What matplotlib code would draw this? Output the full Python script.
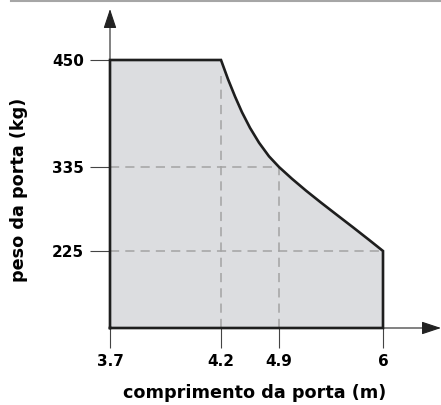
import numpy as np
import matplotlib
matplotlib.use("Agg")
import matplotlib.pyplot as plt
from matplotlib.lines import Line2D

# dados
x_ticks = [3.7, 4.2, 4.9, 6]
x_tick_labels = ["3.7", "4.2", "4.9", "6"]
y_ticks = [225, 335, 450]
y_tick_labels = ["225", "335", "450"]
y_floor = 0

# curva de limite peso x comprimento (de 4.2 m até 6 m)
curve_x = [4.2, 4.284, 4.369, 4.453, 4.550, 4.659, 4.779, 4.9,
           5.038, 5.186, 5.344, 5.513, 5.683, 5.852, 6.0]
curve_y = [450, 429.5, 410.8, 393.9, 377.1, 361.1, 346.5, 335,
           319.5, 304.0, 288.4, 272.2, 256.0, 239.6, 225]

# escala não linear do desenho original (valores -> pixels)
X_SCALE_POS = [0, 111, 169, 273]
Y_SCALE_VALS = [y_floor] + y_ticks
Y_SCALE_POS = [0, 77, 161, 268]


def piecewise(vals, pos):
    vals = np.asarray(vals, float)
    pos = np.asarray(pos, float)

    def make(a, b):
        def f(v):
            v = np.asarray(v, float)
            out = np.interp(v, a, b)
            s0 = (b[1] - b[0]) / (a[1] - a[0])
            s1 = (b[-1] - b[-2]) / (a[-1] - a[-2])
            out = np.where(v < a[0], b[0] + (v - a[0]) * s0, out)
            out = np.where(v > a[-1], b[-1] + (v - a[-1]) * s1, out)
            return out
        return f
    return make(vals, pos), make(pos, vals)


plt.rcParams["font.family"] = ["DejaVu Sans"]
plt.rcParams["font.weight"] = "bold"

fig = plt.figure(figsize=(4.41, 4.05), dpi=100)
W, H = 441, 405
ax = fig.add_axes([110 / W, (H - 328) / H, 273 / W, 268 / H])

ax.set_xscale("function", functions=piecewise(x_ticks, X_SCALE_POS))
ax.set_yscale("function", functions=piecewise(Y_SCALE_VALS, Y_SCALE_POS))
ax.set_xlim(x_ticks[0], x_ticks[-1])
ax.set_ylim(y_floor, y_ticks[-1])

# área permitida
poly_x = [x_ticks[0], x_ticks[0]] + curve_x + [x_ticks[-1]]
poly_y = [y_floor, y_ticks[-1]] + curve_y + [y_floor]
ax.fill(poly_x, poly_y, color="#dcdde0", zorder=1)
ax.plot(poly_x + [poly_x[0]], poly_y + [poly_y[0]], color="#1e1e1e",
        lw=1.9, solid_joinstyle="miter", clip_on=False, zorder=4)

# linhas de referência tracejadas
dash = dict(color="#a3a3a3", lw=1.1, dashes=(6, 4), zorder=2)
ax.plot([x_ticks[0], 4.9], [335, 335], **dash)
ax.plot([x_ticks[0], x_ticks[-1]], [225, 225], **dash)
ax.plot([4.2, 4.2], [y_floor, 433], **dash)
ax.plot([4.9, 4.9], [y_floor, 335], **dash)

for s in ax.spines.values():
    s.set_visible(False)

ax.set_xticks(x_ticks, x_tick_labels)
ax.set_yticks(y_ticks, y_tick_labels)
ax.minorticks_off()
ax.tick_params(axis="both", length=14.5, width=0.8, color="#444444",
               pad=4, labelsize=11)

ax.set_xlabel("comprimento da porta (m)", fontsize=12.7, fontweight="bold",
              va="center")
ax.set_ylabel("peso da porta (kg)", fontsize=12.7, fontweight="bold",
              va="center")
ax.xaxis.set_label_coords((255 - 110) / 273, (328 - 393) / 268)
ax.yaxis.set_label_coords((19 - 110) / 273, (328 - 190) / 268)

# setas dos eixos
arrow = dict(arrowstyle="-|>,head_length=0.6,head_width=0.2", lw=0.8,
             color="#222222", shrinkA=0, shrinkB=0, mutation_scale=20)
ax.annotate("", xy=(0, (328 - 9) / 268), xytext=(0, 1),
            xycoords="axes fraction", arrowprops=arrow)
ax.annotate("", xy=((441 - 110) / 273, 0), xytext=(1, 0),
            xycoords="axes fraction", arrowprops=arrow)

# linha cinza no topo
fig.add_artist(Line2D([11 / W, 1], [1 - 1 / H, 1 - 1 / H], color="#a6a6a6",
                      lw=1.5, transform=fig.transFigure))

fig.savefig("out.png", dpi=100)
